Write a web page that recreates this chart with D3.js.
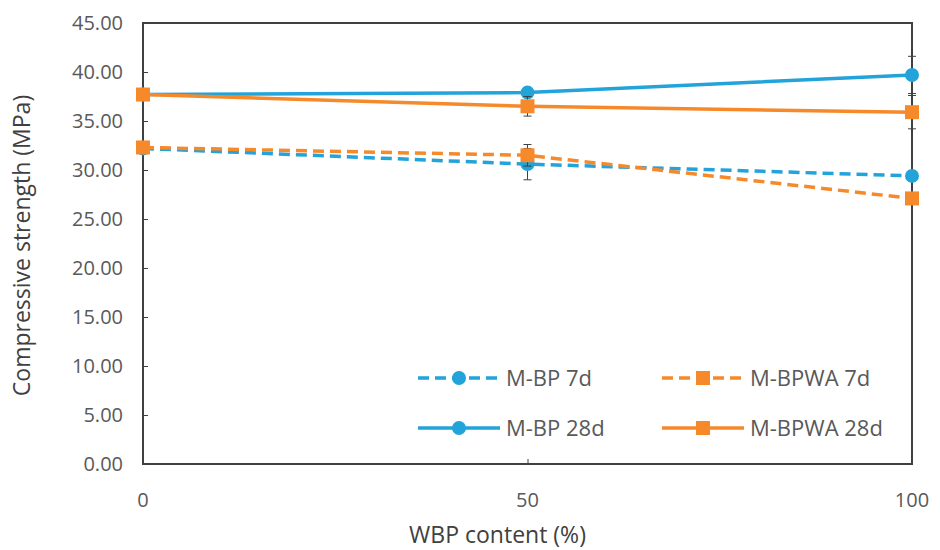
<!DOCTYPE html>
<html>
<head>
<meta charset="utf-8">
<script src="https://cdn.jsdelivr.net/npm/d3@7"></script>
<style>
  body { margin: 0; background: #fff; }
  svg text { font-family: "Open Sans", sans-serif; fill: #595959; }
</style>
</head>
<body>
<svg id="chart"></svg>
<script>
// data
var contents = [0, 50, 100];
var bp7 = [32.2, 30.6, 29.4];
var bp7Err = [0.5, 1.6, 0.5];
var bpwa7 = [32.3, 31.5, 27.1];
var bpwa7Err = [0.5, 1.1, 0.6];
var bp28 = [37.7, 37.9, 39.7];
var bp28Err = [0.5, 0.5, 1.9];
var bpwa28 = [37.7, 36.5, 35.9];
var bpwa28Err = [0.6, 1.0, 1.7];
var yTicks = [0, 5, 10, 15, 20, 25, 30, 35, 40, 45];
var legendNames = ["M-BP 7d", "M-BPWA 7d", "M-BP 28d", "M-BPWA 28d"];

var BLUE = "#22a3da";
var ORANGE = "#f68a2b";

var width = 940, height = 550;
var margin = { top: 23, right: 28, bottom: 86, left: 143 };

var svg = d3.select("#chart").attr("width", width).attr("height", height);

var x = d3.scaleLinear().domain([0, 100]).range([margin.left, width - margin.right]);
var y = d3.scaleLinear().domain([0, 45]).range([height - margin.bottom, margin.top]);

var series = [
  { name: legendNames[0], values: bp7, err: bp7Err, color: BLUE, dash: "11,6", shape: "circle" },
  { name: legendNames[2], values: bp28, err: bp28Err, color: BLUE, dash: null, shape: "circle" },
  { name: legendNames[1], values: bpwa7, err: bpwa7Err, color: ORANGE, dash: "11,6", shape: "square" },
  { name: legendNames[3], values: bpwa28, err: bpwa28Err, color: ORANGE, dash: null, shape: "square" }
];

// y axis, ticks inside
var yaxis = d3.axisRight(y).tickValues(yTicks).tickSize(5).tickFormat("");
svg.append("g")
  .attr("transform", "translate(" + margin.left + ",0)")
  .call(yaxis)
  .call(function (g) { g.select(".domain").remove(); })
  .selectAll("line").attr("stroke", "#404040");

svg.append("g").selectAll("text")
  .data(yTicks)
  .enter()
  .append("text")
  .attr("x", margin.left - 20)
  .attr("y", function (d) { return y(d); })
  .attr("dy", "0.35em")
  .attr("text-anchor", "end")
  .style("font-size", "20px")
  .text(function (d) { return d3.format(".2f")(d); });

// x axis, ticks inside
var xaxis = d3.axisTop(x).tickValues(contents).tickSize(5).tickFormat("");
svg.append("g")
  .attr("transform", "translate(0," + y(0) + ")")
  .call(xaxis)
  .call(function (g) { g.select(".domain").remove(); })
  .selectAll("line").attr("stroke", "#404040");

svg.append("g").selectAll("text")
  .data(contents)
  .enter()
  .append("text")
  .attr("x", function (d) { return x(d); })
  .attr("y", y(0) + 43)
  .attr("text-anchor", "middle")
  .style("font-size", "20px")
  .text(function (d) { return d; });

// frame
svg.append("rect")
  .attr("x", margin.left)
  .attr("y", margin.top)
  .attr("width", x(100) - x(0))
  .attr("height", y(0) - y(45))
  .attr("fill", "none")
  .attr("stroke", "#404040")
  .attr("stroke-width", 2);

// axis titles
svg.append("text")
  .attr("text-anchor", "middle")
  .attr("transform", "translate(30," + (margin.top + (y(0) - margin.top) / 2 + 2) + ")rotate(-90)")
  .style("font-size", "23px")
  .style("fill", "#404040")
  .text("Compressive strength (MPa)");

svg.append("text")
  .attr("text-anchor", "middle")
  .attr("x", (x(0) + x(100)) / 2 - 30)
  .attr("y", 543)
  .style("font-size", "23px")
  .style("fill", "#404040")
  .text("WBP content (%)");

var line = d3.line()
  .x(function (d, i) { return x(contents[i]); })
  .y(function (d) { return y(d); });

function drawMarker(g, s, cx, cy) {
  if (s.shape === "circle") {
    g.append("circle").attr("cx", cx).attr("cy", cy).attr("r", 7).attr("fill", s.color);
  } else {
    g.append("rect").attr("x", cx - 7).attr("y", cy - 7).attr("width", 14).attr("height", 14).attr("fill", s.color);
  }
}

series.forEach(function (s) {
  var g = svg.append("g");
  g.append("path")
    .attr("d", line(s.values))
    .attr("fill", "none")
    .attr("stroke", s.color)
    .attr("stroke-width", 3.5)
    .attr("stroke-dasharray", s.dash);

  s.values.forEach(function (v, i) {
    var cx = x(contents[i]);
    var e = s.err[i];
    g.append("line")
      .attr("x1", cx).attr("x2", cx)
      .attr("y1", y(v - e)).attr("y2", y(v + e))
      .attr("stroke", "#404040").attr("stroke-width", 1);
    [v - e, v + e].forEach(function (c) {
      g.append("line")
        .attr("x1", cx - 4).attr("x2", cx + 4)
        .attr("y1", y(c)).attr("y2", y(c))
        .attr("stroke", "#404040").attr("stroke-width", 1);
    });
    drawMarker(g, s, cx, y(v));
  });
});

// legend
var legendPos = [
  { s: series[0], lx: 418, ly: 378 },
  { s: series[2], lx: 662, ly: 378 },
  { s: series[1], lx: 418, ly: 428 },
  { s: series[3], lx: 662, ly: 428 }
];
legendPos.forEach(function (p) {
  var g = svg.append("g");
  g.append("line")
    .attr("x1", p.lx).attr("x2", p.lx + 82)
    .attr("y1", p.ly).attr("y2", p.ly)
    .attr("stroke", p.s.color)
    .attr("stroke-width", 3.5)
    .attr("stroke-dasharray", p.s.dash);
  drawMarker(g, p.s, p.lx + 41, p.ly);
  g.append("text")
    .attr("x", p.lx + 88)
    .attr("y", p.ly)
    .attr("dy", "0.35em")
    .style("font-size", "22px")
    .text(p.s.name);
});
</script>
</body>
</html>
